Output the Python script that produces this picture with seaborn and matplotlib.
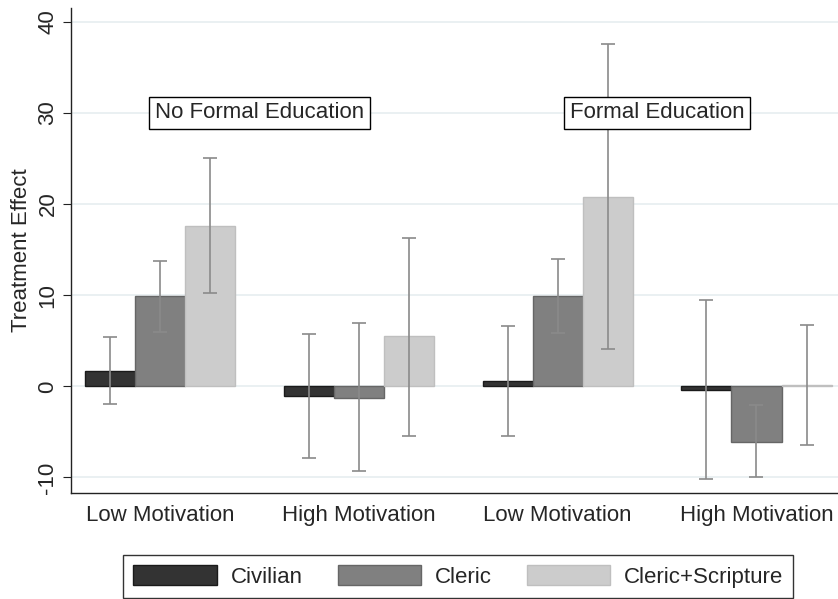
import matplotlib
matplotlib.use("Agg")
import matplotlib.pyplot as plt
import seaborn as sns
import pandas as pd
import numpy as np
from matplotlib.patches import Patch

# ---- data ----
groups = ["NFE Low", "NFE High", "FE Low", "FE High"]
group_labels = ["Low Motivation", "High Motivation", "Low Motivation", "High Motivation"]
conditions = ["Civilian", "Cleric", "Cleric+Scripture"]
civilian = [1.7, -1.1, 0.6, -0.35]
cleric = [9.9, -1.3, 9.9, -6.1]
scripture = [17.6, 5.5, 20.8, 0.1]
civilian_lo = [-1.9, -7.9, -5.5, -10.2]
civilian_hi = [5.4, 5.7, 6.6, 9.5]
cleric_lo = [6.0, -9.3, 5.8, -10.0]
cleric_hi = [13.7, 6.9, 14.0, -2.0]
scripture_lo = [10.2, -5.5, 4.1, -6.4]
scripture_hi = [25.0, 16.3, 37.5, 6.7]
panel_labels = ["No Formal Education", "Formal Education"]
panel_x = [0.5, 2.5]
panel_y = [30, 30]
colors = ["#333333", "#808080", "#cccccc"]
edgecolors = ["#1a1a1a", "#666666", "#bfbfbf"]

vals = [civilian, cleric, scripture]
los = [civilian_lo, cleric_lo, scripture_lo]
his = [civilian_hi, cleric_hi, scripture_hi]
rows = []
for c, v, lo, hi in zip(conditions, vals, los, his):
    for g, vv, l, h in zip(groups, v, lo, hi):
        rows.append(dict(group=g, condition=c, value=vv, lo=l, hi=h))
df = pd.DataFrame(rows)

sns.set_style("white")
plt.rcParams["font.family"] = ["Liberation Sans", "DejaVu Sans"]
FS = 16

fig = plt.figure(figsize=(8.38, 5.99), dpi=100)
ax = fig.add_axes([0.0847, 0.177, 0.9153, 0.8096])

sns.barplot(data=df, x="group", y="value", hue="condition", order=groups,
            hue_order=conditions, palette=colors, errorbar=None, width=0.755,
            gap=0, ax=ax, legend=False, saturation=1, linewidth=1.0)

# color edges & error bars
for ci, cond in enumerate(conditions):
    cont = ax.containers[ci]
    sub = df[df.condition == cond].set_index("group").loc[groups]
    for bar, (_, r) in zip(cont.patches, sub.iterrows()):
        bar.set_edgecolor(edgecolors[ci])
        xc = bar.get_x() + bar.get_width() / 2
        ax.errorbar(xc, r.value, yerr=[[r.value - r.lo], [r.hi - r.value]],
                    fmt="none", ecolor="#8a8a8a", elinewidth=1.2, capsize=5,
                    capthick=1.2, zorder=4)

for lbl, x, y in zip(panel_labels, panel_x, panel_y):
    ax.text(x, y, lbl, ha="center", va="center", fontsize=FS,
            bbox=dict(boxstyle="square,pad=0.25", facecolor="white",
                      edgecolor="black", linewidth=1.0), zorder=5)

ax.set_ylim(-11.7, 41.5)
ax.set_xlim(-0.448, 3.41)
ax.set_yticks([-10, 0, 10, 20, 30, 40])
ax.set_yticklabels(["-10", "0", "10", "20", "30", "40"], rotation=90,
                   va="center", fontsize=FS)
ax.set_xticks(range(4))
ax.set_xticklabels(group_labels, fontsize=FS)
ax.set_xlabel("")
ax.set_ylabel("Treatment Effect", fontsize=FS, labelpad=4)
ax.yaxis.grid(True, color="#e6eef0", linewidth=1.2)
ax.set_axisbelow(True)
for s in ["top", "right"]:
    ax.spines[s].set_visible(False)
for s in ["left", "bottom"]:
    ax.spines[s].set_color("#222222")
    ax.spines[s].set_linewidth(1.0)
ax.tick_params(axis="y", left=True, length=6, color="#222222", pad=3)
ax.tick_params(axis="x", bottom=False, pad=5)

handles = [Patch(facecolor=c, edgecolor=e, label=l)
           for c, e, l in zip(colors, edgecolors, conditions)]
leg = fig.legend(handles=handles, loc="lower center", ncol=3,
                 bbox_to_anchor=(0.547, 0.002), fontsize=FS, frameon=True,
                 fancybox=False, edgecolor="black", handlelength=3.74,
                 handleheight=1.0, columnspacing=1.58, borderpad=0.45,
                 handletextpad=0.63, borderaxespad=0)
leg.get_frame().set_linewidth(1.0)

fig.savefig("out.png", dpi=100)
